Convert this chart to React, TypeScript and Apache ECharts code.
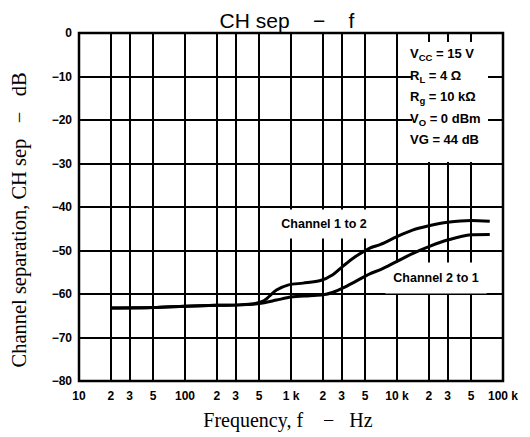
import React, { useEffect, useRef } from "react";
import * as echarts from "echarts";

// Frequency tick positions (Hz) and labels
const freqTicks = [10, 20, 30, 50, 100, 200, 300, 500, 1000, 2000, 3000, 5000, 10000, 20000, 30000, 50000, 100000];
const freqTickLabels: Record<number, string> = {
  10: "10", 20: "2", 30: "3", 50: "5",
  100: "100", 200: "2", 300: "3", 500: "5",
  1000: "1 k", 2000: "2", 3000: "3", 5000: "5",
  10000: "10 k", 20000: "2", 30000: "3", 50000: "5",
  100000: "100 k",
};

// Channel 1 to 2 (frequency Hz, separation dB)
const ch12Freq = [20, 50, 100, 200, 330, 460, 560, 730, 950, 1300, 1900, 2500, 3100, 4000, 5600, 7000, 10000, 14000, 20000, 30000, 50000, 75000];
const ch12Sep = [-63.2, -63.1, -62.8, -62.6, -62.5, -62.2, -61.5, -59.1, -57.9, -57.5, -56.9, -55.5, -53.6, -51.5, -49.4, -48.6, -46.8, -45.3, -44.3, -43.5, -43.1, -43.3];

// Channel 2 to 1
const ch21Freq = [20, 50, 100, 200, 330, 460, 560, 730, 1000, 1500, 2000, 2500, 3100, 4000, 5600, 7000, 10000, 14000, 20000, 30000, 50000, 75000];
const ch21Sep = [-63.2, -63.1, -62.8, -62.6, -62.5, -62.3, -62.0, -61.4, -60.7, -60.4, -60.2, -59.6, -58.6, -57.2, -55.3, -54.4, -52.5, -50.7, -49.1, -47.6, -46.4, -46.3];

const conditionLines = [
  { main: "V", sub: "CC", rest: " = 15 V" },
  { main: "R", sub: "L", rest: " = 4 Ω" },
  { main: "R", sub: "g", rest: " = 10 kΩ" },
  { main: "V", sub: "O", rest: " = 0 dBm" },
  { main: "VG", sub: "", rest: " = 44 dB" },
];

export default function App() {
  const ref = useRef<HTMLDivElement>(null);
  useEffect(() => {
    if (!ref.current) return;
    const chart = echarts.init(ref.current, undefined, { renderer: "svg" });
    const bold = { fontFamily: "Liberation Sans", fontWeight: "bold" as const, color: "#000" };
    const condText = conditionLines
      .map((l) => `{m|${l.main}}` + (l.sub ? `{s|${l.sub}}` : "") + `{m|${l.rest}}`)
      .join("\n");
    chart.setOption({
      animation: false,
      backgroundColor: "#fff",
      grid: { left: 79, right: 27, top: 33, bottom: 56, show: true, borderColor: "#000", borderWidth: 2.5, backgroundColor: "transparent" },
      xAxis: {
        type: "log",
        logBase: 10,
        min: 10,
        max: 100000,
        axisLine: { show: false },
        axisTick: { show: false, customValues: freqTicks },
        axisLabel: {
          customValues: freqTicks,
          formatter: (v: number) => freqTickLabels[Math.round(v)] ?? "",
          fontSize: 12,
          margin: 9,
          ...bold,
        },
        splitLine: { show: true, lineStyle: { color: "#000", width: 2 } },
      },
      yAxis: {
        type: "value",
        min: -80,
        max: 0,
        interval: 10,
        axisLine: { show: false },
        axisTick: { show: false },
        axisLabel: {
          formatter: (v: number) => (v === 0 ? "0" : "−" + Math.abs(v)),
          fontSize: 12,
          margin: 7,
          ...bold,
        },
        splitLine: { show: true, lineStyle: { color: "#000", width: 2 } },
      },
      series: [
        {
          name: "Channel 1 to 2",
          type: "line",
          smooth: 0.3,
          symbol: "none",
          lineStyle: { color: "#000", width: 3 },
          data: ch12Freq.map((f, i) => [f, ch12Sep[i]]),
          z: 5,
        },
        {
          name: "Channel 2 to 1",
          type: "line",
          smooth: 0.3,
          symbol: "none",
          lineStyle: { color: "#000", width: 3 },
          data: ch21Freq.map((f, i) => [f, ch21Sep[i]]),
          z: 5,
        },
      ],
      graphic: [
        {
          type: "text",
          x: 287,
          y: 20,
          style: { text: "CH sep    −    f", font: "21px 'Liberation Sans'", fill: "#000", align: "center", verticalAlign: "middle" },
        },
        {
          type: "text",
          x: 288,
          y: 420,
          style: { text: "Frequency, f    −   Hz", font: "20px 'Liberation Serif'", fill: "#000", align: "center", verticalAlign: "middle" },
        },
        {
          type: "text",
          x: 19,
          y: 220,
          rotation: Math.PI / 2,
          style: { text: "Channel separation, CH sep   −   dB", font: "20.5px 'Liberation Serif'", fill: "#000", align: "center", verticalAlign: "middle" },
        },
        {
          type: "rect",
          z: 3,
          shape: { x: 412, y: 42, width: 76, height: 120 },
          style: { fill: "#fff" },
        },
        {
          type: "text",
          z: 4,
          x: 410,
          y: 43,
          style: {
            text: condText,
            fill: "#000",
            rich: {
              m: { fontFamily: "Liberation Sans", fontWeight: "bold", fontSize: 13, lineHeight: 21.5, fill: "#000" },
              s: { fontFamily: "Liberation Sans", fontWeight: "bold", fontSize: 9.5, lineHeight: 21.5, padding: [8, 0, 0, 0], fill: "#000" },
            },
          },
        },
        {
          type: "text",
          z: 4,
          x: 324,
          y: 224,
          style: {
            text: "Channel 1 to 2",
            font: "bold 12.5px 'Liberation Sans'",
            fill: "#000",
            align: "center",
            verticalAlign: "middle",
            backgroundColor: "#fff",
            padding: [8, 6],
          },
        },
        {
          type: "text",
          z: 4,
          x: 436,
          y: 278,
          style: {
            text: "Channel 2 to 1",
            font: "bold 12.5px 'Liberation Sans'",
            fill: "#000",
            align: "center",
            verticalAlign: "middle",
            backgroundColor: "#fff",
            padding: [9, 8],
          },
        },
      ],
    });
    return () => chart.dispose();
  }, []);
  return <div ref={ref} style={{ position: "fixed", left: 0, top: 0, width: 530, height: 437 }} />;
}
